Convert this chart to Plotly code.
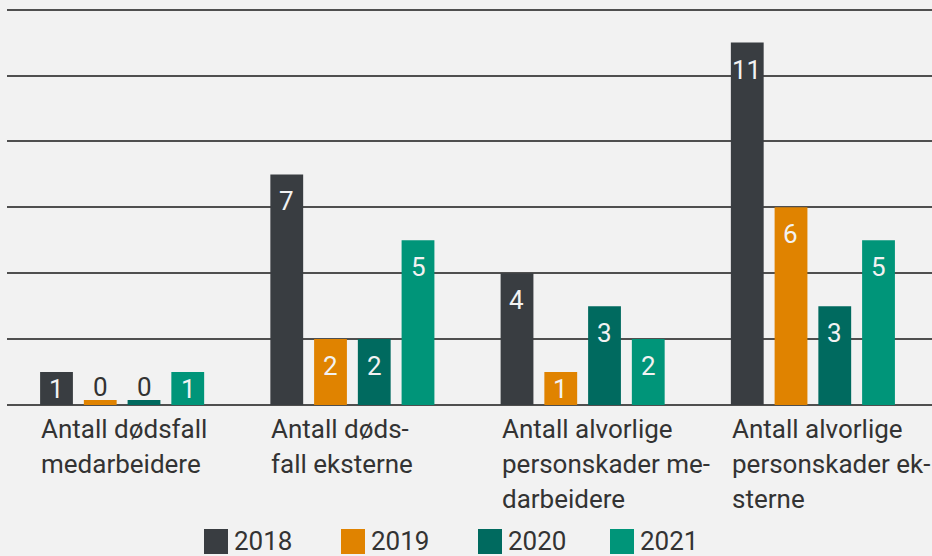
import plotly.graph_objects as go

categories = ["g1", "g2", "g3", "g4"]
category_lines = [
    ["Antall dødsfall", "medarbeidere"],
    ["Antall døds-", "fall eksterne"],
    ["Antall alvorlige", "personskader me-", "darbeidere"],
    ["Antall alvorlige", "personskader ek-", "sterne"],
]
years = ["2018", "2019", "2020", "2021"]
v2018 = [1, 7, 4, 11]
v2019 = [0, 2, 1, 6]
v2020 = [0, 2, 3, 3]
v2021 = [1, 5, 2, 5]
series = [v2018, v2019, v2020, v2021]
colors = ["#393d41", "#e08300", "#006a5f", "#009579"]

FONT = "Roboto"
FS = 26
TXT = "#333333"
BG = "#f2f2f2"

W, H = 932, 556
L, R, T, B = 7, 0, 8, 151
pw, ph = W - L - R, H - T - B
YMAX = 12.05
BARGAP, GROUPGAP = 0.24, 0.25
unit_px = ph / YMAX
slot_px = pw / len(categories) * (1 - BARGAP) / len(years)

def px(x):
    return (x - L) / pw

def py(y):
    return (H - B - y) / ph

STUB = 0.15  # minimal visible height for zero values

fig = go.Figure()
annotations = []
for k, (year, vals, col) in enumerate(zip(years, series, colors)):
    shown = [v if v > 0 else STUB for v in vals]
    fig.add_trace(go.Bar(
        x=categories, y=shown, name=year,
        marker=dict(color=col, line=dict(width=0)),
        showlegend=False,
        hoverinfo="skip",
    ))
    xs = (k - (len(years) - 1) / 2) * slot_px
    for cat, v, s in zip(categories, vals, shown):
        if v == 0:
            ysh, colr = 13, TXT
        else:
            ysh, colr = -min(27, v * unit_px / 2), "#f2f2f2"
        annotations.append(dict(
            x=cat, xref="x", xshift=xs, xanchor="center",
            y=s, yref="y", yshift=ysh, yanchor="middle",
            text=str(v), showarrow=False,
            font=dict(family=FONT, size=FS, color=colr),
        ))

for i, lines in enumerate(category_lines):
    for j, line in enumerate(lines):
        annotations.append(dict(
            x=i - 0.36, xref="x", xanchor="left",
            y=0, yref="paper", yanchor="middle",
            yshift=-(24 + 35 * j),
            text=line, showarrow=False,
            font=dict(family=FONT, size=FS, color=TXT),
        ))

shapes = []
legend_sq_left = [204, 341, 478, 610]
for year, col, xl in zip(years, colors, legend_sq_left):
    shapes.append(dict(
        type="rect", xref="paper", yref="paper",
        x0=px(xl), x1=px(xl + 24), y0=py(554), y1=py(529),
        fillcolor=col, line=dict(width=0),
    ))
    annotations.append(dict(
        x=px(xl + 28), xref="paper", xanchor="left",
        y=py(541), yref="paper", yanchor="middle",
        text=year, showarrow=False,
        font=dict(family=FONT, size=FS, color=TXT),
    ))

fig.update_layout(
    width=W, height=H,
    margin=dict(l=L, r=R, t=T, b=B, pad=0),
    paper_bgcolor=BG, plot_bgcolor=BG,
    barmode="group", bargap=BARGAP, bargroupgap=GROUPGAP,
    font=dict(family=FONT, size=FS, color=TXT),
    xaxis=dict(showticklabels=False, showgrid=False, zeroline=False,
               showline=False, ticks=""),
    yaxis=dict(range=[0, YMAX], tick0=0, dtick=2, showticklabels=False,
               showgrid=True, gridcolor="#4f4f4f", gridwidth=2,
               zeroline=True, zerolinecolor="#4f4f4f", zerolinewidth=2,
               showline=False, ticks=""),
    annotations=annotations,
    shapes=shapes,
)

fig.write_html("out.html", config={"displayModeBar": False},
               post_script="document.body.style.margin='0';")
